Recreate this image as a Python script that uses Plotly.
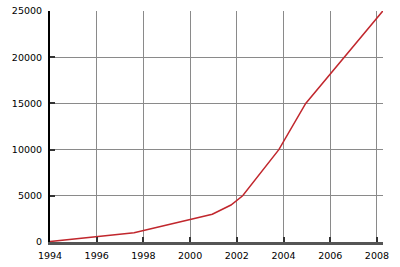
import plotly.graph_objects as go

years = [1994, 1997.6, 2000.95, 2001.75, 2002.25, 2003.8, 2004.95, 2008.25]
values = [50, 1000, 3000, 4000, 5000, 10000, 15000, 25000]
x_ticks = [1994, 1996, 1998, 2000, 2002, 2004, 2006, 2008]
y_ticks = [0, 5000, 10000, 15000, 20000, 25000]

fig = go.Figure()
fig.add_trace(go.Scatter(x=years, y=values, mode="lines",
                         line=dict(color="#c1272d", width=1.5), showlegend=False,
                         cliponaxis=False))

font = dict(family="DejaVu Sans", size=9.5, color="black")
fig.update_layout(
    width=400, height=267,
    margin=dict(l=50, r=17, t=11, b=25, autoexpand=False),
    paper_bgcolor="white", plot_bgcolor="white",
    font=font,
    xaxis=dict(range=[1994, 2008.26], tickvals=x_ticks, ticktext=[str(v) for v in x_ticks],
               showgrid=True, gridcolor="#8a8a8a", gridwidth=1,
               showline=True, linecolor="#555555", linewidth=3,
               ticks="inside", ticklen=5, tickcolor="#333333", tickwidth=1.5,
               zeroline=False, fixedrange=True, ticklabelstandoff=3, automargin=False),
    yaxis=dict(range=[0, 25000], tickvals=y_ticks, ticktext=[str(v) for v in y_ticks],
               showgrid=True, gridcolor="#8a8a8a", gridwidth=1,
               showline=True, linecolor="black", linewidth=2,
               ticks="inside", ticklen=5, tickcolor="#333333", tickwidth=1.5,
               zeroline=False, fixedrange=True, ticklabelstandoff=4, automargin=False),
)
fig.write_html("out.html")
